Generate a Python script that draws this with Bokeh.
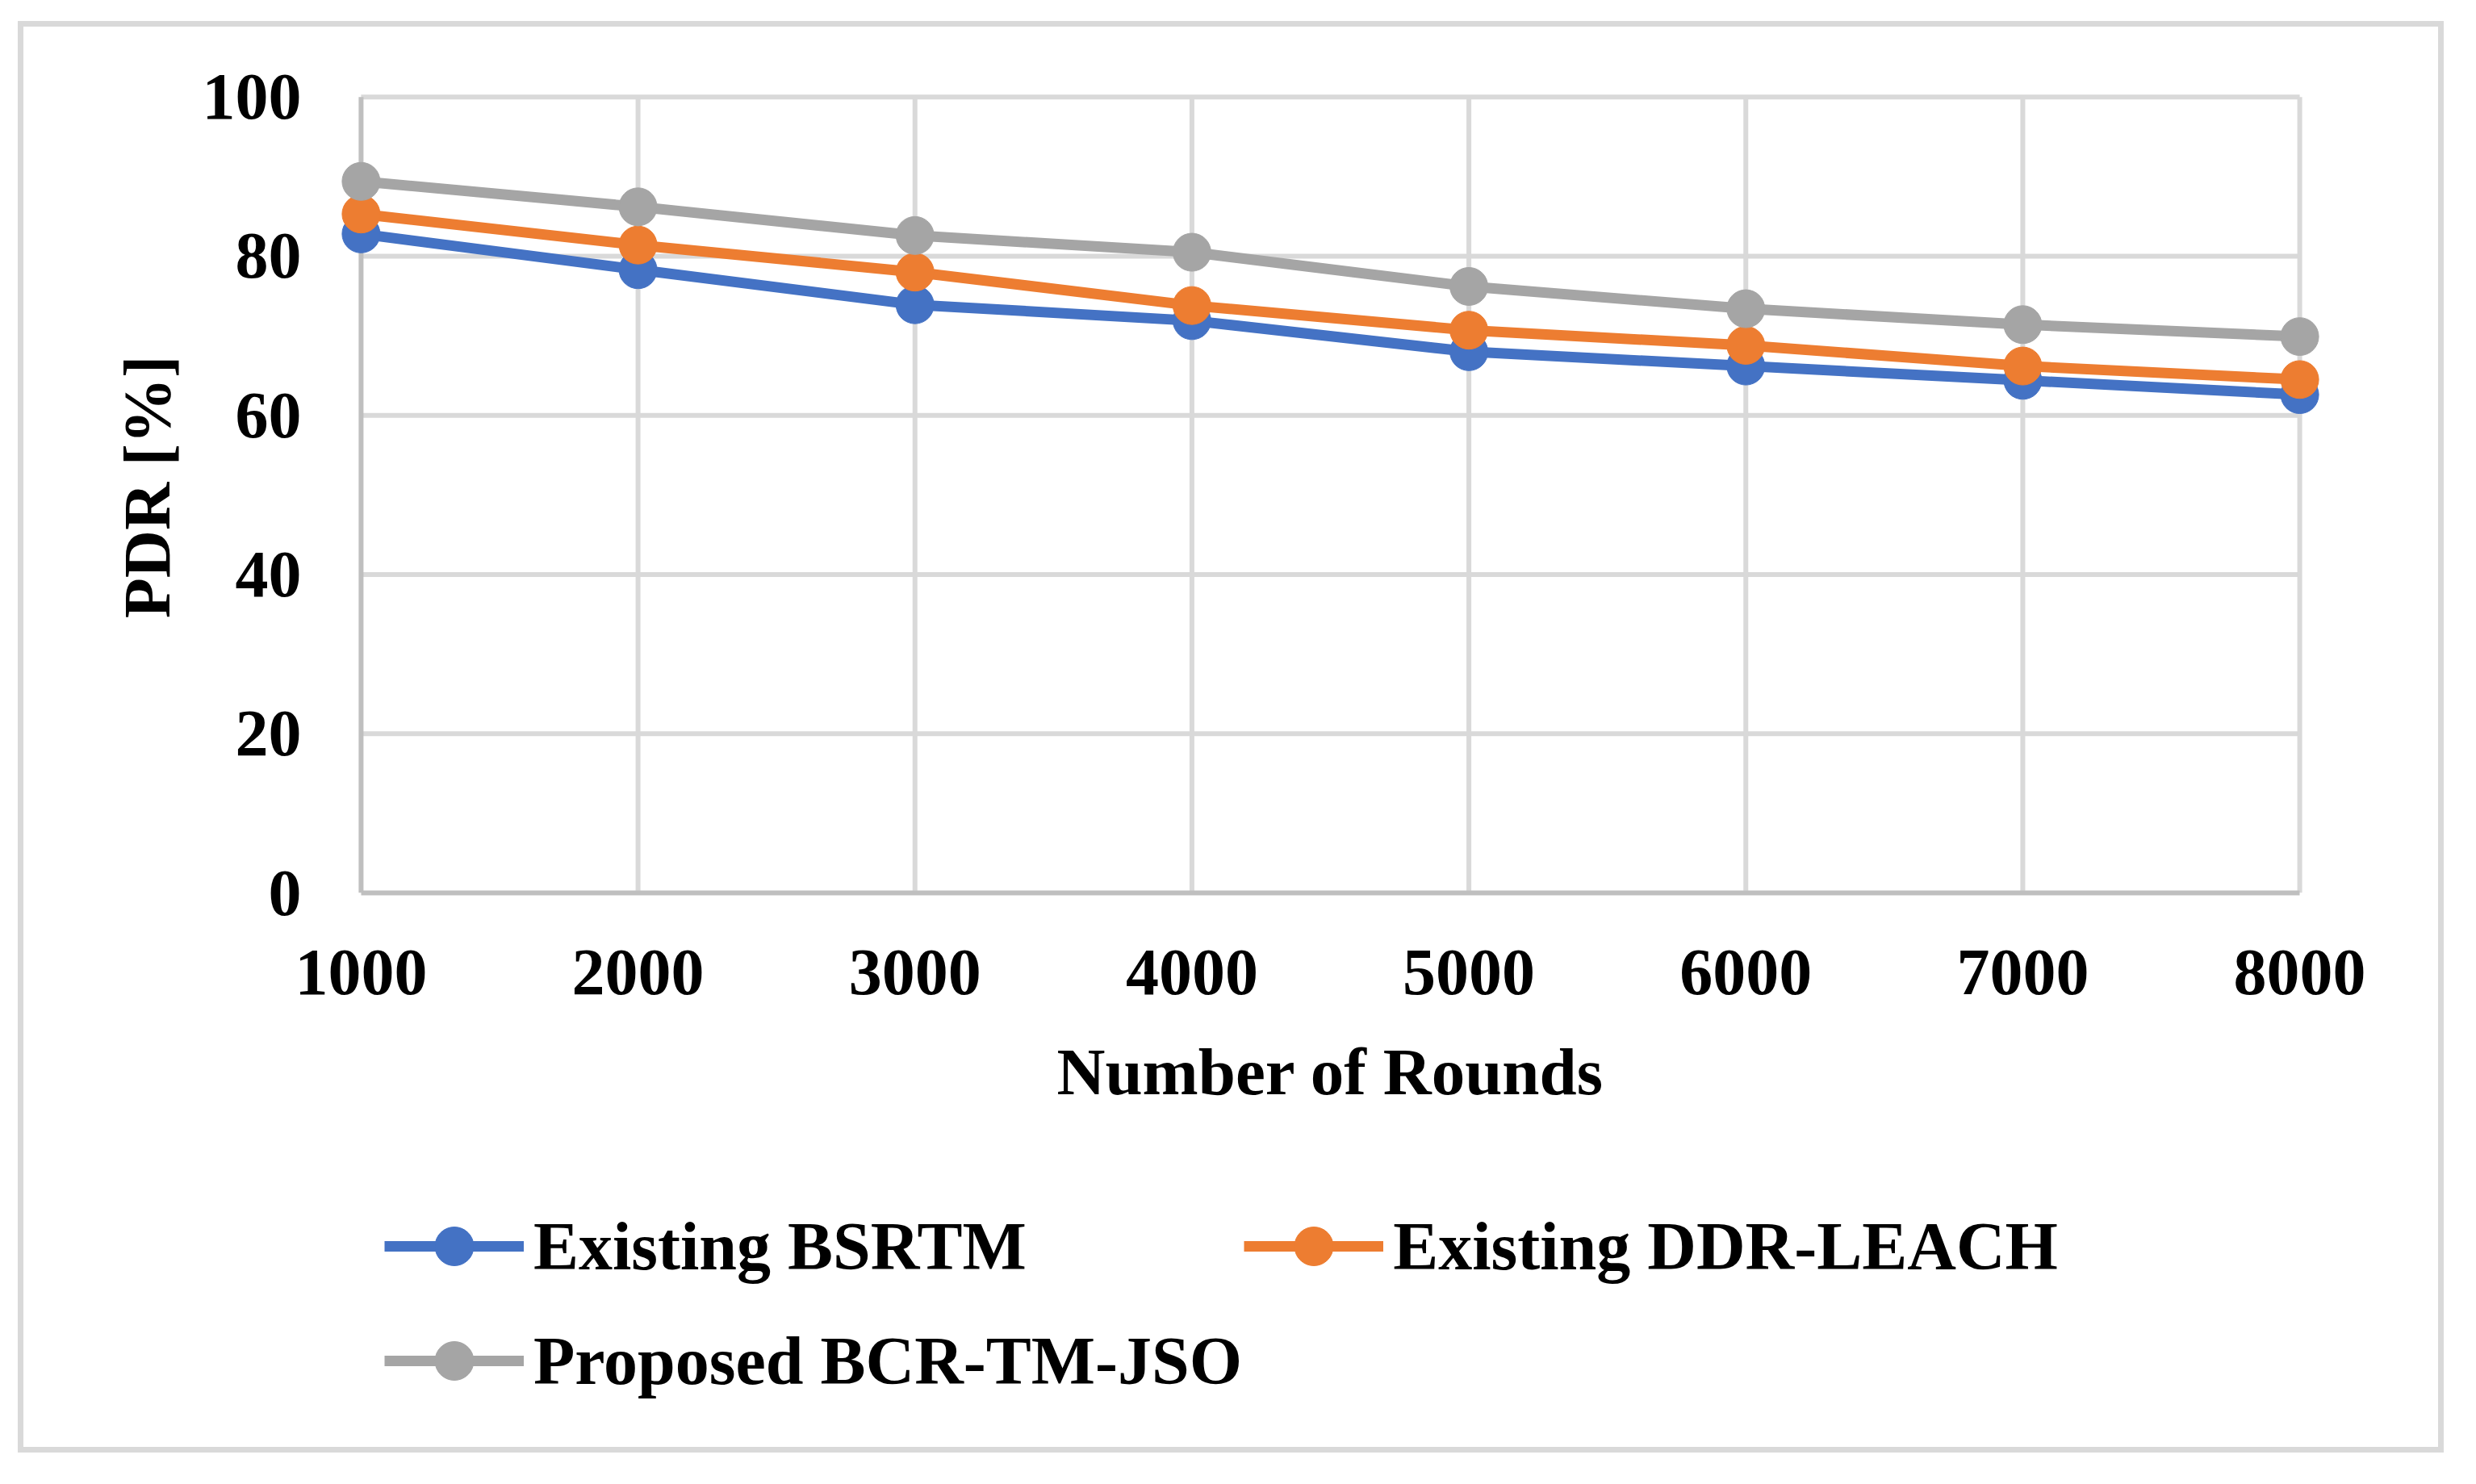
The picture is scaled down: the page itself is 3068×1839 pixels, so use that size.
from bokeh.plotting import figure
from bokeh.layouts import column
from bokeh.models import Range1d, FixedTicker, Legend, LegendItem, InlineStyleSheet
from bokeh.embed import file_html
from bokeh.resources import INLINE

# ---- data ----
rounds = [1000, 2000, 3000, 4000, 5000, 6000, 7000, 8000]
bsrtm = [82.8, 78.3, 73.9, 71.9, 68.0, 66.2, 64.4, 62.6]
ddr_leach = [85.3, 81.4, 78.0, 73.8, 70.7, 68.8, 66.2, 64.5]
proposed = [89.4, 86.2, 82.6, 80.5, 76.2, 73.4, 71.4, 69.9]
y_ticks = [0, 20, 40, 60, 80, 100]
series_names = ["Existing BSRTM", "Existing DDR-LEACH", "Proposed BCR-TM-JSO"]
series_colors = ["#4472C4", "#ED7D31", "#A5A5A5"]
x_title = "Number of Rounds"
y_title = "PDR [%]"

FONT = "Liberation Serif"
GRID = "#D9D9D9"
AXIS = "#BFBFBF"

xpad = 160
border_css = InlineStyleSheet(css="""
:host::after {
  content: "";
  position: absolute;
  left: 22px; top: 26px;
  width: 2992px; height: 1760px;
  border: 7px solid #D9D9D9;
  pointer-events: none;
  z-index: 10;
}
""")

# ---------------- main chart ----------------
p = figure(
    frame_width=2512, frame_height=1006,
    min_border_left=392, min_border_right=136,
    min_border_top=100, min_border_bottom=368,
    x_range=Range1d(rounds[0] - xpad, rounds[-1] + xpad),
    y_range=Range1d(0, 102),
    output_backend="svg", toolbar_location=None,
)
p.outline_line_color = None
p.background_fill_color = "white"
p.border_fill_color = "white"

# grid (drawn between first and last category / tick)
p.xgrid.visible = False
p.ygrid.visible = False
n_y = len(y_ticks) - 1
p.segment(x0=[rounds[0]] * n_y, x1=[rounds[-1]] * n_y,
          y0=y_ticks[1:], y1=y_ticks[1:], line_color=GRID, line_width=6)
n_x = len(rounds) - 1
p.segment(x0=rounds[1:], x1=rounds[1:], y0=[y_ticks[0]] * n_x, y1=[y_ticks[-1]] * n_x,
          line_color=GRID, line_width=6)
# y axis line at first category
p.segment(x0=[rounds[0]], x1=[rounds[0]], y0=[y_ticks[0]], y1=[y_ticks[-1]],
          line_color=AXIS, line_width=6)

# axes
xa = p.xaxis[0]
xa.ticker = FixedTicker(ticks=rounds)
xa.bounds = (rounds[0], rounds[-1])
xa.axis_line_color = AXIS
xa.axis_line_width = 6
xa.major_tick_line_color = None
xa.minor_tick_line_color = None
xa.major_tick_out = 0
xa.major_tick_in = 0
xa.major_label_standoff = 71
xa.major_label_text_font = FONT
xa.major_label_text_font_style = "bold"
xa.major_label_text_font_size = "82px"
xa.major_label_text_color = "black"
xa.axis_label = x_title
xa.axis_label_text_font = FONT
xa.axis_label_text_font_style = "bold"
xa.axis_label_text_font_size = "83px"
xa.axis_label_text_color = "black"
xa.axis_label_standoff = 47

ya = p.yaxis[0]
ya.ticker = FixedTicker(ticks=y_ticks)
ya.axis_line_color = None
ya.major_tick_line_color = None
ya.minor_tick_line_color = None
ya.major_tick_out = 0
ya.major_tick_in = 0
ya.major_label_standoff = 19
ya.major_label_text_font = FONT
ya.major_label_text_font_style = "bold"
ya.major_label_text_font_size = "82px"
ya.major_label_text_color = "black"
ya.axis_label = y_title
ya.axis_label_text_font = FONT
ya.axis_label_text_font_style = "bold"
ya.axis_label_text_font_size = "82px"
ya.axis_label_text_color = "black"
ya.axis_label_standoff = 20

series = [bsrtm, ddr_leach, proposed]
for name, color, vals in zip(series_names, series_colors, series):
    p.line(rounds, vals, line_color=color, line_width=13)
    p.scatter(rounds, vals, marker="circle", size=47, fill_color=color, line_color=color)

# ---------------- legend strip (below the chart) ----------------
q = figure(
    frame_width=2512, frame_height=282,
    min_border_left=392, min_border_right=136,
    min_border_top=0, min_border_bottom=50,
    x_range=Range1d(0, 1), y_range=Range1d(0, 1),
    x_axis_location=None, y_axis_location=None,
    output_backend="svg", toolbar_location=None,
)
q.outline_line_color = None
q.xgrid.visible = False
q.ygrid.visible = False
q.background_fill_color = "white"
q.border_fill_color = "white"

items = []
for name, color, vals in zip(series_names, series_colors, series):
    # same series; they fall outside this strip's ranges, only their legend glyphs show
    r1 = q.line(rounds, vals, line_color=color, line_width=13)
    r2 = q.scatter(rounds, vals, marker="circle", size=47, fill_color=color, line_color=color)
    items.append(LegendItem(label=name, renderers=[r1, r2]))

legend = Legend(
    items=items, orientation="horizontal", ncols=2,
    location=(84, 0),
    glyph_width=173, glyph_height=120, label_height=140,
    label_standoff=12, spacing=2, padding=0, margin=0,
    border_line_color=None, background_fill_alpha=0,
    label_text_font=FONT, label_text_font_style="bold",
    label_text_font_size="84px", label_text_color="black",
)
q.add_layout(legend, "center")

layout = column(p, q, spacing=0, stylesheets=[border_css])

open("out.html", "w").write(file_html(layout, INLINE))
